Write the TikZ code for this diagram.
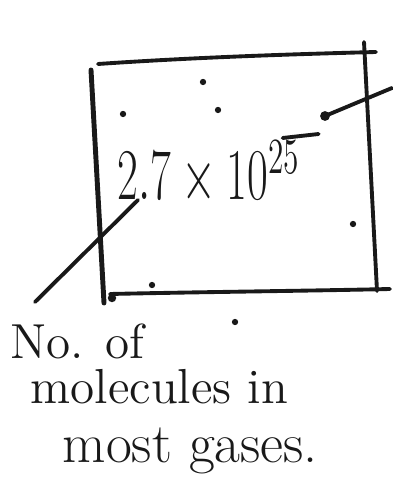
\documentclass[tikz,border=0pt]{standalone}
\usepackage{graphicx}
\usetikzlibrary{calc}

\begin{document}
\begin{tikzpicture}[x=0.1mm,y=-0.1mm,
  ink/.style={line width=1.1pt,line cap=round,line join=round,color=black!90},
  speck/.style={fill=black!90,inner sep=0pt,minimum size=1.8pt,circle},
  num/.style={inner sep=0pt,font=\fontsize{21}{24}\selectfont,text=black!90},
  note/.style={inner sep=0pt,font=\fontsize{14}{16}\selectfont,text=black!90}
]
  \useasboundingbox (0,0) rectangle (392,488);
  % box drawn by hand
  \draw[ink] (98,64) .. controls (200,57) and (300,54) .. (376,52);
  \draw[ink] (364,42) -- (377,291);
  \draw[ink,line width=1.4pt] (91,70) -- (104,303);
  \draw[ink] (110,294) .. controls (200,292) and (300,291) .. (390,289);
  % molecules
  \node[speck] (m1) at (203,82) {};
  \node[speck] (m2) at (218,110) {};
  \node[speck] (m3) at (123,114) {};
  \node[speck] (m4) at (353,224) {};
  \node[speck] (m5) at (152,285) {};
  \node[speck,minimum size=2.4pt] (m6) at (112,298) {};
  \node[speck] (m7) at (235,322) {};
  % the number
  \node[num,anchor=base west] (num) at (117,200)
    {\scalebox{0.62}[1]{$2.7\times10^{25}$}};
  \draw[ink] ($(num.base east)+(-18,-62)$) -- ($(num.base east)+(18,-66)$);
  % pointer to the right
  \coordinate (ptrS) at (325,116);
  \coordinate (ptrE) at (392,88);
  \fill[black!90] (ptrS) circle (1.4pt);
  \draw[ink] (ptrS) -- (ptrE);
  % label
  \node[note,anchor=base west] (lblA) at (10,358) {No. of};
  \node[note,anchor=base west] (lblB) at (30,403) {molecules in};
  \node[note,anchor=base west,font=\fontsize{16}{18}\selectfont] (lblC) at (62,462) {most gases.};
  \coordinate (tail) at (35,302);
  \draw[ink] (tail) -- ($(num.base west)+(21,0)$);
\end{tikzpicture}
\end{document}
